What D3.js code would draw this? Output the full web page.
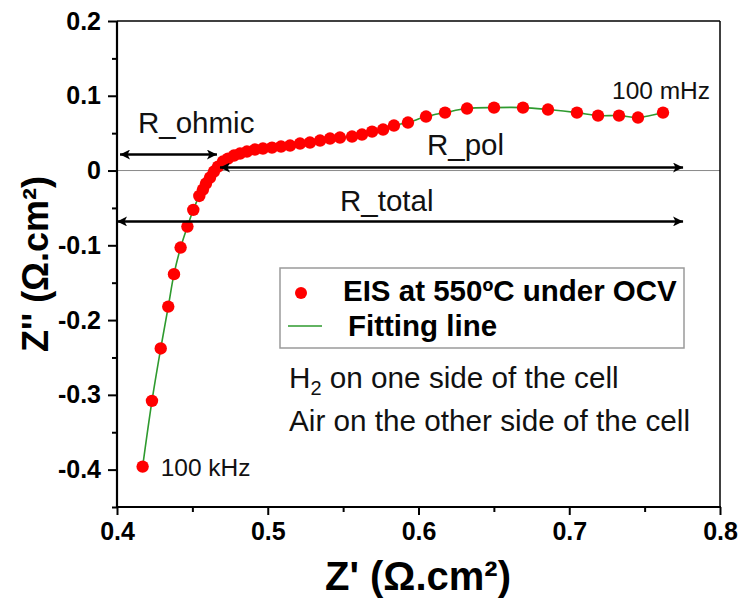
<!DOCTYPE html>
<html><head><meta charset="utf-8">
<script src="https://cdn.jsdelivr.net/npm/d3@7/dist/d3.min.js"></script>
<style>body{margin:0;background:#fff}svg{display:block}text{font-family:"Liberation Sans",Arial,sans-serif}</style>
</head><body><svg id="c" width="738" height="605"></svg>
<script>
// ---- data ----
const zReal = [0.417,0.4232,0.429,0.434,0.4378,0.4422,0.4467,0.4506,0.4546,0.4570,0.4590,0.4617,0.4643,0.4670,0.4703,0.4736,0.4776,0.4816,0.4862,0.4915,0.4968,0.5028,0.5088,0.5148,0.5214,0.5280,0.5347,0.5413,0.5479,0.5559,0.5625,0.5692,0.5765,0.5837,0.5930,0.6050,0.6176,0.6322,0.6501,0.6693,0.6859,0.7051,0.7191,0.7330,0.7456,0.7622];
const zImag = [-0.396,-0.308,-0.238,-0.182,-0.1386,-0.103,-0.075,-0.0526,-0.034,-0.0254,-0.0174,-0.0094,-0.0013,0.0053,0.0120,0.0160,0.0201,0.0227,0.0254,0.0281,0.0294,0.0307,0.0321,0.0334,0.0361,0.0374,0.0401,0.0428,0.0441,0.0455,0.0481,0.0521,0.0548,0.0602,0.0642,0.0722,0.0775,0.0829,0.0842,0.0842,0.0816,0.0775,0.0735,0.0735,0.0709,0.0775];
const xTicks = [0.4,0.5,0.6,0.7,0.8];
const xMinor = [0.45,0.55,0.65,0.75];
const yTicks = [-0.4,-0.3,-0.2,-0.1,0,0.1,0.2];
const yMinor = [-0.45,-0.35,-0.25,-0.15,-0.05,0.05,0.15];
const xTickLabels = ["0.4","0.5","0.6","0.7","0.8"];
const yTickLabels = ["-0.4","-0.3","-0.2","-0.1","0","0.1","0.2"];
// annotation arrows
const arrowNames = ["R_ohmic","R_pol","R_total"];
const arrowX1 = [0.402,0.4683,0.4];
const arrowX2 = [0.4663,0.7755,0.7755];
const arrowY = [0.0214,0.004,-0.068];

const svg = d3.select("#c");
const L=117,R=720,T=21,B=507;
const x = d3.scaleLinear().domain([0.4,0.8]).range([L,R]);
const y = d3.scaleLinear().domain([-0.45,0.2]).range([B,T]);
svg.append("rect").attr("width",738).attr("height",605).attr("fill","#fff");

// zero line
svg.append("line").attr("x1",L).attr("x2",R).attr("y1",y(0)).attr("y2",y(0)).attr("stroke","#8a8a8a").attr("stroke-width",1);

// frame top/right
svg.append("line").attr("x1",L).attr("x2",R).attr("y1",T).attr("y2",T).attr("stroke","#000").attr("stroke-width",1.5);
svg.append("line").attr("x1",R).attr("x2",R).attr("y1",T).attr("y2",B).attr("stroke","#000").attr("stroke-width",1.5);

// axes
function styleAxis(g){g.select(".domain").remove();g.selectAll("line").attr("stroke","#000").attr("stroke-width",2);}
svg.append("g").attr("transform",`translate(0,${B})`)
  .call(d3.axisBottom(x).tickValues(xTicks).tickSize(8).tickFormat((d,i)=>xTickLabels[i]).tickPadding(7))
  .call(styleAxis).call(g=>g.selectAll("text").attr("font-size",25).attr("font-weight","bold").attr("fill","#000"));
svg.append("g").attr("transform",`translate(0,${B})`)
  .call(d3.axisBottom(x).tickValues(xMinor).tickSize(5).tickFormat(""))
  .call(styleAxis);
svg.append("g").attr("transform",`translate(${L},0)`)
  .call(d3.axisLeft(y).tickValues(yTicks).tickSize(9).tickFormat((d,i)=>yTickLabels[i]).tickPadding(7))
  .call(styleAxis).call(g=>g.selectAll("text").attr("font-size",25).attr("font-weight","bold").attr("fill","#000"));
svg.append("g").attr("transform",`translate(${L},0)`)
  .call(d3.axisLeft(y).tickValues(yMinor).tickSize(5).tickFormat(""))
  .call(styleAxis);
svg.append("line").attr("x1",L).attr("x2",L).attr("y1",T).attr("y2",B+1).attr("stroke","#000").attr("stroke-width",2.2);
svg.append("line").attr("x1",L-1).attr("x2",R+1).attr("y1",B).attr("y2",B).attr("stroke","#000").attr("stroke-width",2.2);

// axis titles
svg.append("text").attr("x",418).attr("y",590).attr("text-anchor","middle").attr("font-size",40).attr("font-weight","bold")
  .text("Z' (Ω.cm²)");
svg.append("text").attr("transform",`translate(48,${(T+B)/2}) rotate(-90)`).attr("text-anchor","middle").attr("font-size",36).attr("font-weight","bold")
  .text("Z'' (Ω.cm²)");

// fitting line
const pts = zReal.map((v,i)=>[v,zImag[i]]);
svg.append("path").datum(pts).attr("fill","none").attr("stroke","#2e9a2e").attr("stroke-width",1.6)
  .attr("d",d3.line().x(d=>x(d[0])).y(d=>y(d[1])).curve(d3.curveCatmullRom));
// points
svg.append("g").selectAll("circle").data(pts).join("circle")
  .attr("cx",d=>x(d[0])).attr("cy",d=>y(d[1])).attr("r",6.2).attr("fill","#ff0000");

// arrows
const defs = svg.append("defs");
defs.append("marker").attr("id","ah").attr("viewBox","0 0 10 10").attr("refX",10).attr("refY",5)
  .attr("markerWidth",6).attr("markerHeight",4).attr("markerUnits","strokeWidth").attr("orient","auto-start-reverse")
  .append("path").attr("d","M0,0 L10,5 L0,10 L2.5,5 z").attr("fill","#000");
arrowNames.forEach((n,i)=>{
  svg.append("line").attr("x1",x(arrowX1[i])).attr("x2",x(arrowX2[i])).attr("y1",y(arrowY[i])).attr("y2",y(arrowY[i]))
    .attr("stroke","#000").attr("stroke-width",2.5).attr("marker-start","url(#ah)").attr("marker-end","url(#ah)");
});

// annotation texts
const ann = [["R_ohmic",138,133],["R_pol",427,155],["R_total",340,211]];
ann.forEach(a=>svg.append("text").attr("x",a[1]).attr("y",a[2]).attr("font-size",29.5).attr("fill","#111").text(a[0]));
svg.append("text").attr("x",x(0.417)+18).attr("y",476).attr("font-size",24.5).attr("fill","#111").text("100 kHz");
svg.append("text").attr("x",612).attr("y",99).attr("font-size",24.5).attr("fill","#111").text("100 mHz");

// legend
svg.append("rect").attr("x",280).attr("y",268).attr("width",404).attr("height",80).attr("fill","#fff").attr("stroke","#9a9a9a").attr("stroke-width",1.5);
svg.append("circle").attr("cx",301).attr("cy",293).attr("r",6).attr("fill","#ff0000");
svg.append("text").attr("x",343).attr("y",301).attr("font-size",29.5).attr("font-weight","bold").attr("fill","#000").text("EIS at 550ºC under OCV");
svg.append("line").attr("x1",288).attr("x2",322).attr("y1",326).attr("y2",326).attr("stroke","#2e9a2e").attr("stroke-width",1.6);
svg.append("text").attr("x",348).attr("y",336).attr("font-size",29.5).attr("font-weight","bold").attr("fill","#000").text("Fitting line");

const t1 = svg.append("text").attr("x",289).attr("y",388).attr("font-size",29.7).attr("fill","#111");
t1.append("tspan").text("H");
t1.append("tspan").attr("font-size",20).attr("dy",7).text("2");
t1.append("tspan").attr("dy",-7).text(" on one side of the cell");
svg.append("text").attr("x",289).attr("y",431).attr("font-size",29.7).attr("fill","#111").text("Air on the other side of the cell");
</script></body></html>
